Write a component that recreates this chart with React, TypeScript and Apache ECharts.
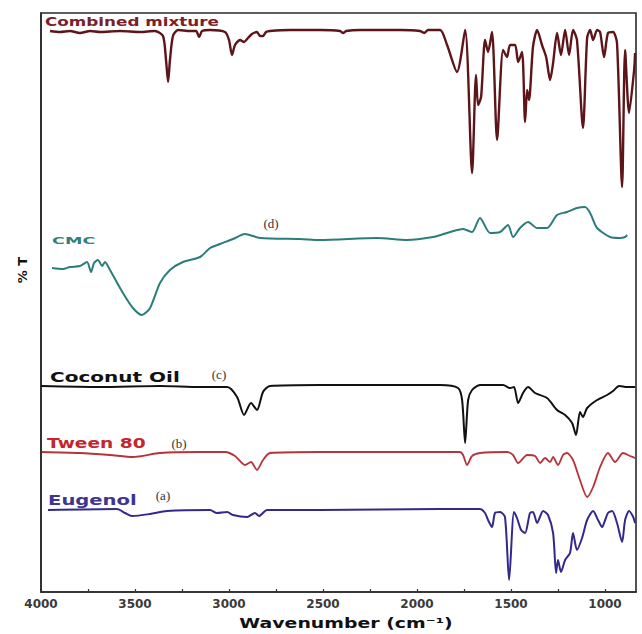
import React, { useEffect, useRef } from "react";
import * as echarts from "echarts";

// Wavenumber (cm-1) and relative %T (offset-stacked)
const mixtureWn = [3952,3899,3846,3793,3739,3686,3580,3473,3394,3351,3335,3324,3314,3298,3271,3207,3175,3159,3143,3101,3021,3000,2984,2968,2941,2920,2899,2878,2851,2835,2819,2803,2782,2675,2516,2409,2393,2377,2303,2090,1984,1962,1941,1877,1840,1787,1744,1707,1686,1675,1659,1638,1622,1601,1574,1542,1521,1505,1478,1462,1441,1425,1414,1404,1383,1361,1335,1313,1292,1276,1255,1234,1212,1191,1170,1149,1117,1095,1079,1063,1042,1026,1005,984,957,936,909,893,872,845,840];
const mixtureT = [112.2,112.0,112.2,111.8,112.2,112.0,112.2,112.0,112.2,111.2,106.4,102.0,106.4,111.2,112.4,112.2,112.2,111.0,112.2,112.4,112.0,110.4,107.4,109.4,110.4,110.0,110.8,111.6,112.0,111.2,111.2,112.0,112.2,112.4,112.4,112.2,111.8,112.2,112.4,112.4,112.2,111.8,112.4,112.4,109.4,104.0,112.4,83.8,103.4,97.4,99.0,110.4,108.0,112.0,90.4,108.4,107.0,109.4,109.4,106.0,108.0,94.0,100.4,98.4,109.0,112.4,109.4,107.0,102.4,105.8,111.8,107.4,112.4,107.4,112.4,110.4,92.8,110.8,112.4,110.4,112.4,112.0,107.0,111.8,112.0,109.8,81.0,108.4,95.8,104.4,107.8];

const cmcWn = [3941,3883,3846,3793,3755,3734,3718,3697,3675,3660,3633,3564,3511,3463,3420,3367,3314,3245,3154,3101,3048,2979,2915,2835,2622,2516,2212,2053,1915,1840,1755,1707,1665,1611,1558,1516,1489,1452,1409,1361,1308,1255,1202,1149,1106,1079,1042,973,920,893,882];
const cmcT = [64.8,64.6,65.0,65.2,66.0,64.0,65.8,66.4,65.2,66.0,64.4,59.8,56.8,55.4,56.8,61.8,64.4,66.0,67.0,68.8,69.6,70.6,71.6,70.8,70.6,70.4,70.8,70.4,71.0,71.8,72.6,72.0,74.8,71.8,72.0,73.4,71.0,72.8,74.0,72.8,72.8,75.4,76.0,76.8,77.0,75.8,72.8,71.0,70.8,71.0,71.4];

const coconutWn = [4000,3686,3367,3154,3010,2957,2920,2883,2851,2819,2782,2516,1877,1782,1760,1744,1728,1707,1665,1542,1505,1484,1462,1436,1409,1372,1308,1255,1212,1175,1154,1133,1117,1095,1042,989,957,925,882,840];
const coconutT = [41.2,41.0,41.2,41.0,41.0,39.0,35.4,37.8,36.4,40.0,41.2,41.4,41.4,40.8,38.4,29.8,38.4,40.4,41.4,41.4,40.8,41.0,37.8,39.8,41.0,39.8,38.8,36.4,35.4,33.8,31.4,36.0,35.0,36.8,38.4,39.4,40.2,41.2,41.0,41.0];

const tweenWn = [3995,3793,3633,3511,3367,3154,3021,2968,2915,2883,2851,2819,2782,2516,1771,1755,1734,1707,1665,1521,1489,1462,1414,1372,1345,1319,1292,1276,1250,1223,1202,1170,1133,1095,1063,1026,984,946,904,866,840];
const tweenT = [28.0,27.8,27.4,27.0,27.8,28.0,28.0,27.2,25.4,26.0,24.4,26.4,27.8,28.0,28.0,27.4,25.4,27.2,27.8,28.0,27.4,25.8,27.4,27.2,25.8,26.8,26.0,27.0,25.4,27.4,27.8,26.4,22.4,19.0,21.0,25.0,27.8,26.0,27.8,27.2,26.8];

const eugenolWn = [3963,3596,3553,3516,3420,3330,3101,3064,3010,2979,2904,2862,2840,2798,2516,1877,1665,1638,1622,1601,1585,1558,1532,1510,1484,1468,1446,1425,1399,1383,1361,1329,1303,1276,1260,1250,1234,1212,1186,1170,1149,1122,1095,1063,1037,1015,999,984,962,936,909,893,872,850,840];
const eugenolT = [16.4,16.6,15.8,15.2,15.6,16.2,16.4,15.8,16.0,15.4,15.0,15.8,15.2,16.4,16.4,16.6,16.6,15.8,14.4,13.0,15.8,16.0,15.0,2.4,16.0,14.8,12.4,11.8,15.8,16.0,13.8,16.2,15.4,11.8,3.8,6.4,4.0,6.4,7.8,11.8,8.4,10.8,14.4,16.2,14.4,13.0,14.4,15.8,16.2,13.8,10.0,14.4,16.2,15.0,13.8];

const tickLabels = [4000, 3500, 3000, 2500, 2000, 1500, 1000];
const tickMarks = [4000, 3750, 3500, 3250, 3000, 2750, 2500, 2250, 2000, 1750, 1500, 1250, 1000];

const zip = (xs: number[], ys: number[]) => xs.map((x, i) => [x, ys[i]]);

const FONT = '"DejaVu Sans", sans-serif';
const SERIF = '"Liberation Serif", "DejaVu Serif", serif';

function txt(text: string, x: number, y: number, fill: string, font: string, scaleX = 1, align = "left", rotation = 0) {
  return {
    type: "text",
    x,
    y,
    scaleX,
    rotation,
    silent: true,
    style: {
      text,
      fill,
      font,
      textAlign: align,
      align,
      textVerticalAlign: "middle",
      verticalAlign: "middle",
    },
  };
}

export default function App() {
  const ref = useRef<HTMLDivElement>(null);
  useEffect(() => {
    if (!ref.current) return;
    const chart = echarts.init(ref.current, null, { renderer: "svg" });
    const line = (name: string, data: number[][], color: string, width: number) => ({
      name,
      type: "line",
      data,
      showSymbol: false,
      smooth: 0.25,
      lineStyle: { color, width },
      itemStyle: { color },
      z: 3,
    });
    chart.setOption({
      animation: false,
      backgroundColor: "#ffffff",
      grid: {
        left: 41,
        right: 6,
        top: 13,
        bottom: 42,
        show: true,
        borderColor: "#2a2a2a",
        borderWidth: 1.6,
      },
      xAxis: {
        type: "value",
        min: 835,
        max: 4000,
        inverse: true,
        axisLine: { show: true, lineStyle: { color: "#2a2a2a", width: 1.6 } },
        axisTick: {
          show: true,
          inside: true,
          length: 3,
          customValues: tickMarks,
          lineStyle: { color: "#333", width: 1.2 },
        },
        axisLabel: {
          customValues: tickLabels,
          formatter: (v: number) => String(v),
          color: "#3a3a3a",
          fontFamily: FONT,
          fontWeight: "bold",
          fontSize: 12,
          margin: 6,
        },
        splitLine: { show: false },
      },
      yAxis: {
        type: "value",
        min: 0,
        max: 115.8,
        axisLine: { show: true, lineStyle: { color: "#2a2a2a", width: 1.6 } },
        axisTick: { show: false },
        axisLabel: { show: false },
        splitLine: { show: false },
      },
      series: [
        line("Combined mixture", zip(mixtureWn, mixtureT), "#5e151a", 2.4),
        line("CMC", zip(cmcWn, cmcT), "#2a7d78", 2),
        line("Coconut Oil", zip(coconutWn, coconutT), "#111111", 2),
        line("Tween 80", zip(tweenWn, tweenT), "#b8323a", 1.8),
        line("Eugenol", zip(eugenolWn, eugenolT), "#32298a", 2),
      ],
      graphic: [
        txt("Combined mixture", 45, 21, "#7b2026", `bold 12px ${FONT}`, 1.4),
        txt("CMC", 52, 241, "#2f7f7a", `bold 8px ${FONT}`, 2.2),
        txt("(d)", 271, 223, "#333333", `13px ${SERIF}`, 1, "center"),
        txt("Coconut Oil", 50, 377, "#111111", `bold 14px ${FONT}`, 1.43),
        txt("(c)", 219, 374, "#333333", `13px ${SERIF}`, 1, "center"),
        txt("Tween 80", 47, 443, "#c4262e", `bold 14px ${FONT}`, 1.33),
        txt("(b)", 179, 443, "#333333", `13px ${SERIF}`, 1, "center"),
        txt("Eugenol", 48, 500, "#3d3590", `bold 14px ${FONT}`, 1.4),
        txt("(a)", 163, 495, "#333333", `13px ${SERIF}`, 1, "center"),
        txt("Wavenumber (cm\u207B\u00B9)", 346, 623, "#111111", `bold 14px ${FONT}`, 1.35, "center"),
        txt("% T", 22, 270, "#111111", `bold 13px ${FONT}`, 1, "center", Math.PI / 2),
      ],
    });
    return () => chart.dispose();
  }, []);
  return (
    <div
      ref={ref}
      style={{ position: "fixed", left: 0, top: 0, width: 642, height: 634, background: "#fff" }}
    />
  );
}
